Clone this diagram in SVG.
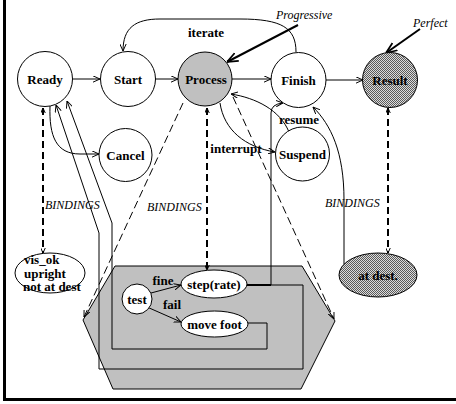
<svg xmlns="http://www.w3.org/2000/svg" width="456" height="404" viewBox="0 0 456 404">
  <defs>
    <pattern id="hatch" width="2" height="2" patternUnits="userSpaceOnUse">
      <rect width="2" height="2" fill="#dcdcdc"/>
      <rect width="1" height="1" fill="#5a5a5a"/>
      <rect x="1" y="1" width="1" height="1" fill="#5a5a5a"/>
    </pattern>
    <!-- open arrowhead for ordinary transitions -->
    <marker id="arr" viewBox="0 0 10 10" refX="10" refY="5" markerWidth="7" markerHeight="7" markerUnits="userSpaceOnUse" orient="auto">
      <path d="M0,0.5 L10,5 L0,9.5" fill="none" stroke="#000" stroke-width="1.4"/>
    </marker>
    <!-- heavy arrowhead for the quality annotations -->
    <marker id="heavy" viewBox="0 0 10 10" refX="10" refY="5" markerWidth="11" markerHeight="11" markerUnits="userSpaceOnUse" orient="auto">
      <path d="M0,1 L10,5 L0,9" fill="none" stroke="#000" stroke-width="1.6"/>
    </marker>
    <!-- small tips on the binding links -->
    <marker id="tip" viewBox="0 0 10 10" refX="10" refY="5" markerWidth="5" markerHeight="5" markerUnits="userSpaceOnUse" orient="auto-start-reverse">
      <path d="M0,0.5 L10,5 L0,9.5" fill="none" stroke="#000" stroke-width="2"/>
    </marker>
  </defs>
  <style>
    .node { fill: #fff; stroke: #000; stroke-width: 1; }
    .proc { fill: #c0c0c0; stroke: #000; stroke-width: 1; }
    .hatch { fill: url(#hatch); stroke: #000; stroke-width: 1; }
    .t { font-family: "Liberation Serif", "Times New Roman", serif; font-weight: bold; font-size: 13px; text-anchor: middle; fill: #000; }
    .tl { font-family: "Liberation Serif", "Times New Roman", serif; font-weight: bold; font-size: 13px; fill: #000; }
    .it { font-family: "Liberation Serif", "Times New Roman", serif; font-style: italic; font-size: 12px; fill: #000; }
    .e { fill: none; stroke: #000; stroke-width: 1; }
    .bind { fill: none; stroke: #000; stroke-width: 2; stroke-dasharray: 7 4; }
    .proj { fill: none; stroke: #000; stroke-width: 1; stroke-dasharray: 8 4; }
  </style>

  <rect width="456" height="404" fill="#fff"/>
  <!-- frame -->
  <path d="M4.5,0 V399.5 H456" fill="none" stroke="#000" stroke-width="3"/>

  <!-- behaviour block -->
  <g id="behaviour">
    <polygon points="115,266 302,266 335,321 301,389 113,389 83,320" fill="#c0c0c0" stroke="#000" stroke-width="1"/>
  </g>

  <g id="connectors">
    <!-- main sequence -->
    <line class="e" x1="73" y1="79" x2="100" y2="79" marker-end="url(#arr)"/>
    <line class="e" x1="155" y1="79" x2="178" y2="79" marker-end="url(#arr)"/>
    <line class="e" x1="232" y1="79" x2="271" y2="79" marker-end="url(#arr)"/>
    <line class="e" x1="326" y1="80" x2="363" y2="80" marker-end="url(#arr)"/>
    <!-- iterate -->
    <path class="e" d="M296,52 C296,28 282,19 240,19 L160,19 C135,19 123,28 123,51" marker-end="url(#arr)"/>
    <!-- cancel -->
    <path class="e" d="M50,106 C49,136 56,154 80,154 L99,154" marker-end="url(#arr)"/>
    <!-- interrupt / resume -->
    <path class="e" d="M220,103 C224,130 245,147 275,152" marker-end="url(#arr)"/>
    <path class="e" d="M289,132 C280,110 256,98 231,94" marker-end="url(#arr)"/>
    <!-- step(rate) back to Finish and to Ready -->
    <path class="e" d="M247,285 H271 V113 Q271,104 283,103" marker-end="url(#arr)"/>
    <path class="e" d="M247,285 H303 V369 H99 V233 L56,105" marker-end="url(#arr)"/>
    <line x1="247" y1="285" x2="271" y2="285" stroke="#000" stroke-width="2"/>
    <!-- move foot back to Ready -->
    <path class="e" d="M248,323 H267 V349 H112 V223 L67,101" marker-end="url(#arr)"/>
    <!-- at dest. back to Finish -->
    <path class="e" d="M344,264 V200 C344,152 331,125 313,107" marker-end="url(#arr)"/>
    <!-- projections of Process onto the block -->
    <line class="proj" x1="183" y1="103" x2="84" y2="317" marker-end="url(#arr)"/>
    <line class="proj" x1="233" y1="97" x2="334" y2="319" marker-end="url(#arr)"/>
    <!-- bindings -->
    <line class="bind" x1="43" y1="108" x2="43" y2="253" marker-start="url(#tip)" marker-end="url(#tip)"/>
    <line class="bind" x1="207" y1="108" x2="207" y2="270" marker-start="url(#tip)" marker-end="url(#tip)"/>
    <line class="bind" x1="388" y1="108" x2="388" y2="253" marker-start="url(#tip)" marker-end="url(#tip)"/>
    <!-- inner transitions -->
    <line class="e" x1="151" y1="293" x2="181" y2="285" marker-end="url(#arr)"/>
    <line class="e" x1="147" y1="307" x2="181" y2="322" marker-end="url(#arr)"/>
    <!-- quality annotations -->
    <line x1="298" y1="25" x2="227" y2="62" stroke="#000" stroke-width="2" marker-end="url(#heavy)"/>
    <line x1="420" y1="29" x2="386" y2="53" stroke="#000" stroke-width="2" marker-end="url(#heavy)"/>
  </g>

  <!-- edge labels -->
  <g id="labels">
    <text class="t" x="206" y="37">iterate</text>
    <text class="t" x="236" y="153">interrupt</text>
    <text class="t" x="299" y="124">resume</text>
    <text class="t" x="163" y="285">fine</text>
    <text class="t" x="172" y="309">fail</text>
    <text class="it" x="45" y="209">BINDINGS</text>
    <text class="it" x="147" y="211">BINDINGS</text>
    <text class="it" x="325" y="207">BINDINGS</text>
    <text class="it" x="276" y="19">Progressive</text>
    <text class="it" x="413" y="27">Perfect</text>
  </g>

  <g id="ready"><circle class="node" cx="45" cy="79" r="27.5"/><text class="t" x="45" y="83.5">Ready</text></g>
  <g id="start"><circle class="node" cx="128" cy="79" r="27.5"/><text class="t" x="128" y="83.5">Start</text></g>
  <g id="process"><circle class="proc" cx="205" cy="79" r="27"/><text class="t" x="206" y="83.5">Process</text></g>
  <g id="finish"><circle class="node" cx="298.5" cy="80" r="27.5"/><text class="t" x="298.5" y="84.5">Finish</text></g>
  <g id="result"><circle class="hatch" cx="390" cy="80" r="27.5"/><text class="t" x="390" y="84.5">Result</text></g>
  <g id="cancel"><circle class="node" cx="125.5" cy="155" r="26.5"/><text class="t" x="125.5" y="159.5">Cancel</text></g>
  <g id="suspend"><circle class="node" cx="302.5" cy="154" r="27"/><text class="t" x="302.5" y="158.5">Suspend</text></g>
  <g id="vis-ok">
    <ellipse class="node" cx="50" cy="273" rx="35" ry="20"/>
    <text class="tl" x="24" y="264">vis_ok</text>
    <text class="tl" x="24" y="277.5">upright</text>
    <text class="tl" x="23" y="291">not at dest</text>
  </g>
  <g id="at-dest"><ellipse class="hatch" cx="378" cy="275" rx="39" ry="22"/><text class="t" x="378" y="279.5">at dest.</text></g>
  <g id="test"><circle class="node" cx="137" cy="299" r="15"/><text class="t" x="137" y="303.5">test</text></g>
  <g id="step"><ellipse class="node" cx="214" cy="284" rx="33" ry="14"/><text class="t" x="214" y="288.5">step(rate)</text></g>
  <g id="move-foot"><ellipse class="node" cx="214.5" cy="324" rx="33.5" ry="13"/><text class="t" x="214.5" y="328.5">move foot</text></g>
</svg>
